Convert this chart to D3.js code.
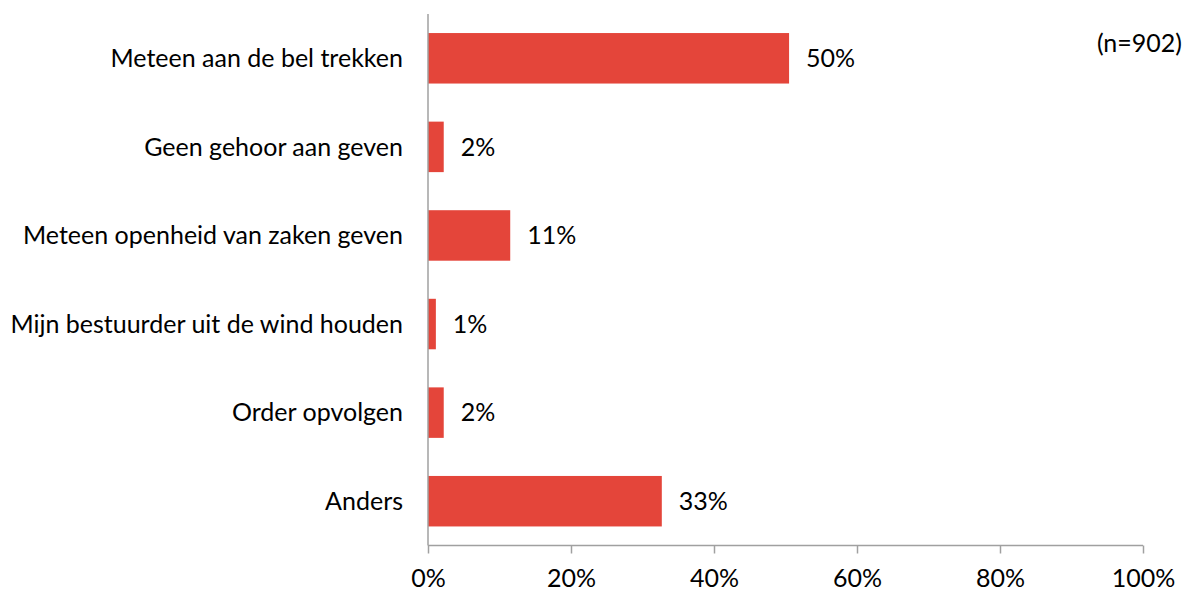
<!DOCTYPE html>
<html><head><meta charset="utf-8">
<script src="https://d3js.org/d3.v7.min.js"></script>
<style>body{margin:0;background:#fff}svg{display:block}text{font-family:Lato,"Open Sans",sans-serif;fill:#000}</style>
</head><body>
<svg id="c" width="1184" height="592"></svg>
<script>
const categories = ["Meteen aan de bel trekken","Geen gehoor aan geven","Meteen openheid van zaken geven","Mijn bestuurder uit de wind houden","Order opvolgen","Anders"];
const values = [50.5, 2.2, 11.5, 1.1, 2.2, 32.7];
const valueLabels = ["50%","2%","11%","1%","2%","33%"];
const xTicks = [0,20,40,60,80,100];
const note = "(n=902)";

(function(){
const svg = d3.select("#c");
const mLeft = 428, mRight = 1143, mTop = 14, mBottom = 545.5;
const fs = 25;
const x = d3.scaleLinear().domain([0,100]).range([mLeft,mRight]);
const y = d3.scaleBand().domain(categories).range([mTop,mBottom]).paddingInner(0.43).paddingOuter(0.215);
const axisColor = "#a0a0a0";

svg.selectAll("rect.bar").data(categories).enter().append("rect")
  .attr("class","bar")
  .attr("x", x(0)).attr("y", d=>y(d))
  .attr("width", (d,i)=>x(values[i])-x(0)).attr("height", y.bandwidth())
  .attr("fill","#E4453A");

svg.append("line").attr("x1",mLeft).attr("x2",mLeft).attr("y1",mTop).attr("y2",mBottom).attr("stroke",axisColor).attr("stroke-width",1.5);
const xa = svg.append("g").attr("transform",`translate(0,${mBottom})`)
  .call(d3.axisBottom(x).tickValues(xTicks).tickSize(8).tickFormat(d=>d+"%"));
xa.select(".domain").attr("stroke",axisColor).attr("stroke-width",1.5).attr("d",`M${mLeft},0H${mRight}`);
xa.selectAll(".tick line").attr("stroke",axisColor).attr("stroke-width",1.5);
xa.selectAll(".tick text").attr("font-size",fs).attr("dy",0).attr("y",41).attr("font-family","Lato,'Open Sans',sans-serif").attr("fill","#000");

svg.selectAll("text.cat").data(categories).enter().append("text")
  .attr("class","cat").attr("x", mLeft-25).attr("y", d=>y(d)+y.bandwidth()/2)
  .attr("dy","0.35em").attr("text-anchor","end").attr("font-size",fs).text(d=>d);

svg.selectAll("text.val").data(categories).enter().append("text")
  .attr("class","val").attr("x",(d,i)=>x(values[i])+17).attr("y", d=>y(d)+y.bandwidth()/2)
  .attr("dy","0.35em").attr("font-size",fs).text((d,i)=>valueLabels[i]);

svg.append("text").attr("x",1182).attr("y",52).attr("text-anchor","end").attr("font-size",fs).text(note);
})();
</script>
</body></html>
